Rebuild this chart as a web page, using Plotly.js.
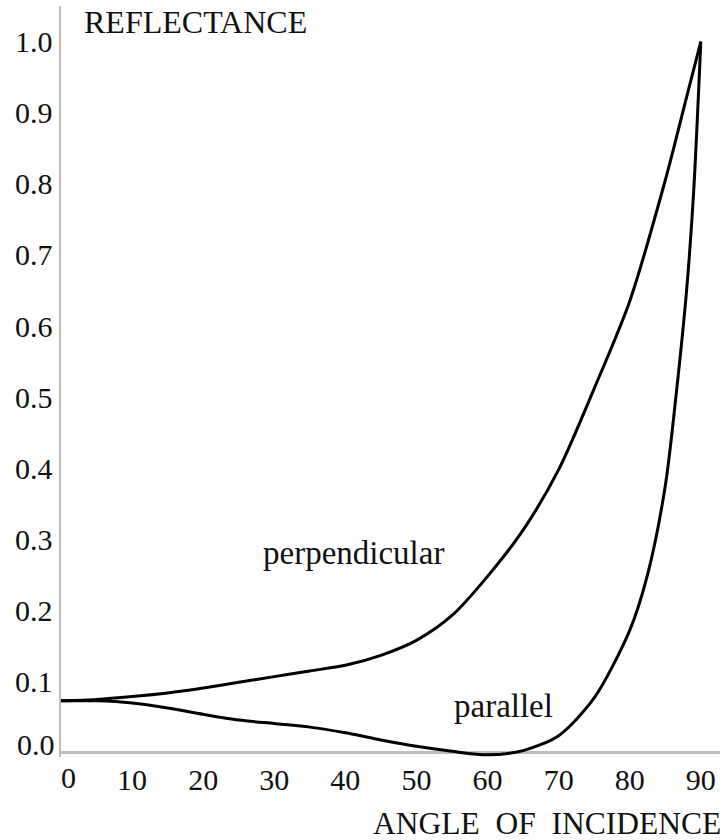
<!DOCTYPE html>
<html>
<head>
<meta charset="utf-8">
<script src="https://cdn.plot.ly/plotly-3.0.1.min.js"></script>
<style>
html,body{margin:0;padding:0;background:#fff;}
#chart{width:726px;height:840px;}
</style>
</head>
<body>
<div id="chart"></div>
<script>
// Angle of incidence (degrees)
const anglesPerp = [0, 5, 10, 15, 20, 25, 30, 35, 40, 45, 50, 55, 60, 65, 70, 75, 80, 85, 88, 90];
// Reflectance, perpendicular polarisation
const reflPerp = [0.073, 0.075, 0.079, 0.084, 0.091, 0.099, 0.107, 0.115, 0.123, 0.137, 0.158, 0.193, 0.248, 0.313, 0.398, 0.512, 0.635, 0.805, 0.922, 1.0];

const anglesPar = [0, 5, 10, 15, 20, 25, 30, 35, 40, 45, 50, 55, 60, 65, 70, 75, 80, 82.5, 85, 86.6, 88, 89, 90];
// Reflectance, parallel polarisation
const reflPar = [0.073, 0.073, 0.070, 0.063, 0.054, 0.046, 0.041, 0.036, 0.028, 0.018, 0.009, 0.002, -0.003, 0.003, 0.024, 0.077, 0.172, 0.250, 0.375, 0.510, 0.650, 0.790, 1.0];

const xTickVals = [10, 20, 30, 40, 50, 60, 70, 80, 90];
const xTickText = ['10', '20', '30', '40', '50', '60', '70', '80', '90'];
const yTickVals = [0.1, 0.2, 0.3, 0.4, 0.5, 0.6, 0.7, 0.8, 0.9, 1.0];
const yTickText = ['0.1', '0.2', '0.3', '0.4', '0.5', '0.6', '0.7', '0.8', '0.9', '1.0'];

const FONT = "'Liberation Serif', 'Times New Roman', Times, serif";
const INK = '#111';
const lineStyle = {color: '#000', width: 3, shape: 'spline', smoothing: 0.8};

const data = [
  {x: anglesPerp, y: reflPerp, type: 'scatter', mode: 'lines', line: lineStyle, name: 'perpendicular'},
  {x: anglesPar, y: reflPar, type: 'scatter', mode: 'lines', line: lineStyle, name: 'parallel'}
];

const tf = {family: FONT, size: 30, color: INK};

const layout = {
  width: 726, height: 840,
  margin: {l: 61, r: 6, t: 6, b: 83, pad: 0},
  paper_bgcolor: '#fff', plot_bgcolor: '#fff',
  showlegend: false,
  font: {family: FONT, size: 30, color: INK},
  xaxis: {
    range: [0, 92.7], tickvals: xTickVals, ticktext: xTickText,
    showgrid: false, zeroline: false, showline: false, ticks: '',
    ticklabelstandoff: 2,
    tickfont: tf
  },
  yaxis: {
    range: [-0.006, 1.05], tickvals: yTickVals, ticktext: yTickText,
    showgrid: false, zeroline: true, zerolinecolor: '#bdbdbd', zerolinewidth: 2.5,
    showline: true, linecolor: '#bdbdbd', linewidth: 2.5, ticks: '',
    ticklabelstandoff: 0,
    tickfont: tf
  },
  annotations: [
    {text: 'REFLECTANCE', x: 3.0, y: 1.028, xref: 'x', yref: 'y', xanchor: 'left', yanchor: 'middle', showarrow: false, font: {family: FONT, size: 32, color: INK}},
    {text: 'ANGLE  OF  INCIDENCE', x: 1.004, y: -0.089, xref: 'paper', yref: 'paper', xanchor: 'right', yanchor: 'middle', showarrow: false, font: {family: FONT, size: 31.5, color: INK}},
    {text: 'perpendicular', x: 41.2, y: 0.281, xref: 'x', yref: 'y', xanchor: 'center', yanchor: 'middle', showarrow: false, font: {family: FONT, size: 33, color: INK}},
    {text: 'parallel', x: 62.3, y: 0.066, xref: 'x', yref: 'y', xanchor: 'center', yanchor: 'middle', showarrow: false, font: {family: FONT, size: 33, color: INK}},
    {text: '0.0', x: 0, y: 0.011, xref: 'x', yref: 'y', xanchor: 'right', xshift: -4, yanchor: 'middle', showarrow: false, font: tf},
    {text: '0', x: 0, y: -0.006, xref: 'x', yref: 'y', xanchor: 'center', xshift: 7, yanchor: 'top', yshift: -2, showarrow: false, font: tf}
  ]
};

Plotly.newPlot('chart', data, layout, {staticPlot: true, displayModeBar: false});
</script>
</body>
</html>
